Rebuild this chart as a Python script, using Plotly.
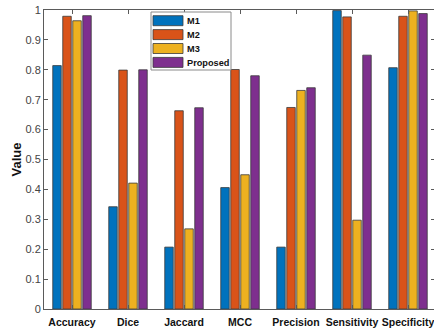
import plotly.graph_objects as go

# Metric names on the x axis and scores per method
metrics = ["Accuracy", "Dice", "Jaccard", "MCC", "Precision", "Sensitivity", "Specificity"]
methods = ["M1", "M2", "M3", "Proposed"]
m1 = [0.814, 0.342, 0.207, 0.406, 0.207, 0.998, 0.807]
m2 = [0.979, 0.799, 0.663, 0.801, 0.674, 0.977, 0.979]
m3 = [0.964, 0.421, 0.268, 0.449, 0.731, 0.297, 0.997]
proposed = [0.981, 0.800, 0.673, 0.780, 0.740, 0.849, 0.988]
y_ticks = [0, 0.1, 0.2, 0.3, 0.4, 0.5, 0.6, 0.7, 0.8, 0.9, 1]
y_tick_text = ["0", "0.1", "0.2", "0.3", "0.4", "0.5", "0.6", "0.7", "0.8", "0.9", "1"]

colors = ["#0072BD", "#D95319", "#EDB120", "#7E2F8E"]
series = [m1, m2, m3, proposed]

W, H = 434, 335
L, R, T, B = 44, 0, 10, 26
PW, PH = W - L - R, H - T - B
AXC = "#5a5a5a"

xpos = list(range(1, len(metrics) + 1))

fig = go.Figure()
for name, vals, col in zip(methods, series, colors):
    fig.add_trace(go.Bar(
        x=xpos, y=vals, name=name,
        marker=dict(color=col, line=dict(color="#3a3a3a", width=0.8)),
        showlegend=False,
    ))

# helper: pixel position -> paper fraction
def px(x):
    return (x - L) / PW

def py(y):
    return (H - B - y) / PH

# legend box with wide colour swatches
shapes = [dict(type="rect", xref="paper", yref="paper",
               x0=px(151), x1=px(231), y0=py(70), y1=py(12),
               line=dict(color="#8a8a8a", width=1), fillcolor="white", layer="above")]
annotations = []
for i, (name, col) in enumerate(zip(methods, colors)):
    top = 15.7 + i * 13.9
    shapes.append(dict(type="rect", xref="paper", yref="paper",
                       x0=px(153), x1=px(183), y0=py(top + 10), y1=py(top),
                       line=dict(color="#3a3a3a", width=0.8), fillcolor=col, layer="above"))
    annotations.append(dict(x=px(185), y=py(top + 5.2), xref="paper", yref="paper",
                            text="<b>%s</b>" % name, showarrow=False,
                            xanchor="left", yanchor="middle",
                            font=dict(family="Liberation Sans, Arial", size=9.2, color="#111111")))

# mirrored right-side ticks (axis itself lies just past the edge)
fig.add_trace(go.Scatter(x=[None], y=[None], yaxis="y2", showlegend=False))

fig.update_layout(
    width=W, height=H,
    margin=dict(l=L, r=R, t=T, b=B),
    paper_bgcolor="white", plot_bgcolor="white",
    barmode="group", bargap=0.286, bargroupgap=0.15,
    shapes=shapes, annotations=annotations,
    xaxis=dict(
        range=[0.5, 0.5 + PW / 56.0],
        tickvals=xpos, ticktext=["<b>%s</b>" % m for m in metrics],
        ticks="inside", ticklen=4, tickcolor=AXC,
        showline=True, linecolor=AXC, linewidth=1, mirror="ticks",
        showgrid=False, zeroline=False,
        tickfont=dict(family="Liberation Sans, Arial", size=10.5, color="#111111"),
        ticklabelstandoff=3, ticklabeloverflow="allow",
    ),
    yaxis=dict(
        range=[0, 1],
        tickvals=y_ticks, ticktext=y_tick_text,
        ticks="inside", ticklen=4, tickcolor=AXC,
        showline=True, linecolor=AXC, linewidth=1,
        showgrid=False, zeroline=False,
        tickfont=dict(family="Liberation Sans, Arial", size=11, color="#444444"),
        title=dict(text="<b>Value</b>", standoff=0,
                   font=dict(family="Liberation Sans, Arial", size=13, color="#111111")),
    ),
    yaxis2=dict(
        range=[0, 1], overlaying="y", side="right",
        tickvals=y_ticks, ticks="inside", ticklen=3, tickcolor=AXC,
        showticklabels=False, showline=False, showgrid=False, zeroline=False,
    ),
)

fig.write_html("out.html")
